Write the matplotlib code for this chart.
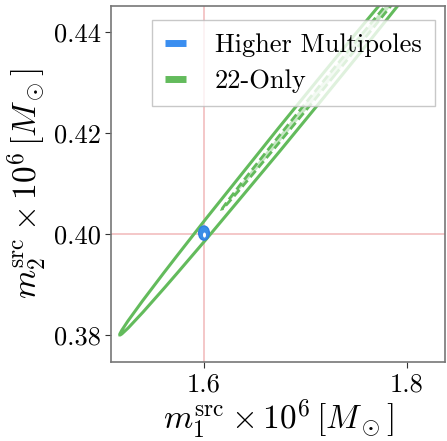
import matplotlib
matplotlib.use("Agg")
import matplotlib.pyplot as plt
from matplotlib.patches import Ellipse
from matplotlib.lines import Line2D

plt.rcParams.update({
    "font.family": "serif",
    "font.serif": ["cmr10"],
    "mathtext.fontset": "cm",
    "axes.formatter.use_mathtext": True,
})

# injected source-frame masses (x 1e6 Msun)
m1_true = 1.6
m2_true = 0.40

# 22-only credible regions: (centre m1, centre m2, full major, full minor, angle deg)
only22_outer = (1.712, 0.428, 0.4016, 0.0048, 13.8)
only22_inner = (1.728, 0.432, 0.2266, 0.0015, 13.8)

# higher-multipole credible regions
hm_outer = (1.600, 0.4002, 0.0105, 0.0028, 0.0)
hm_inner = (1.6005, 0.3998, 0.0030, 0.0010, 0.0)

xlim = (1.5084, 1.8374)
ylim = (0.3747, 0.4451)
xticks = [1.6, 1.8]
yticks = [0.38, 0.40, 0.42, 0.44]

green = "#63bb5c"
blue = "#3a8ee6"

fig = plt.figure(figsize=(4.47, 4.41), dpi=100)
ax = fig.add_axes([0.2483, 0.1791, 0.7472, 0.8073])

ax.axvline(m1_true, color="tab:red", alpha=0.3, lw=1.2, zorder=1)
ax.axhline(m2_true, color="tab:red", alpha=0.3, lw=1.2, zorder=1)

cx, cy, w, h, a = only22_outer
ax.add_patch(Ellipse((cx, cy), w, h, angle=a, fill=False,
                     edgecolor=green, lw=2.2, zorder=2))
cx, cy, w, h, a = only22_inner
ax.add_patch(Ellipse((cx, cy), w, h, angle=a, facecolor=green, alpha=0.35,
                     edgecolor="none", zorder=2))
ax.add_patch(Ellipse((cx, cy), w, h, angle=a, fill=False,
                     edgecolor=green, lw=2.0, ls=(0, (3, 1.5)), zorder=2))

cx, cy, w, h, a = hm_outer
ax.add_patch(Ellipse((cx, cy), w, h, angle=a, facecolor=blue,
                     edgecolor="#2f7fe0", lw=1.0, zorder=3))
cx, cy, w, h, a = hm_inner
ax.add_patch(Ellipse((cx, cy), w, h, angle=a, facecolor="white",
                     edgecolor="none", zorder=4))

ax.set_xlim(*xlim)
ax.set_ylim(*ylim)
ax.set_xticks(xticks)
ax.set_yticks(yticks)
ax.set_xticklabels(["%.1f" % t for t in xticks])
ax.set_yticklabels(["%.2f" % t for t in yticks])
ax.tick_params(labelsize=19, length=4, color="#333333")
for s in ax.spines.values():
    s.set_color("#777777")
    s.set_linewidth(1.2)

ax.set_xlabel(r"$m_1^{\rm src} \times 10^6\, [M_\odot]$", fontsize=24, labelpad=1)
ax.set_ylabel(r"$m_2^{\rm src} \times 10^6\, [M_\odot]$", fontsize=24, labelpad=3)

handles = [Line2D([], [], color="#3a8ef0", lw=5, solid_capstyle="butt"),
           Line2D([], [], color=green, lw=5, solid_capstyle="butt")]
ax.legend(handles, ["Higher Multipoles", "22-Only"], loc="upper right",
          bbox_to_anchor=(0.97, 0.96),
          fontsize=19, fancybox=False, edgecolor="#bbbbbb", framealpha=0.8,
          handlelength=0.8, handletextpad=1.1, borderaxespad=0.0,
          labelspacing=0.45, borderpad=0.5)

fig.savefig("out.png", dpi=100)
